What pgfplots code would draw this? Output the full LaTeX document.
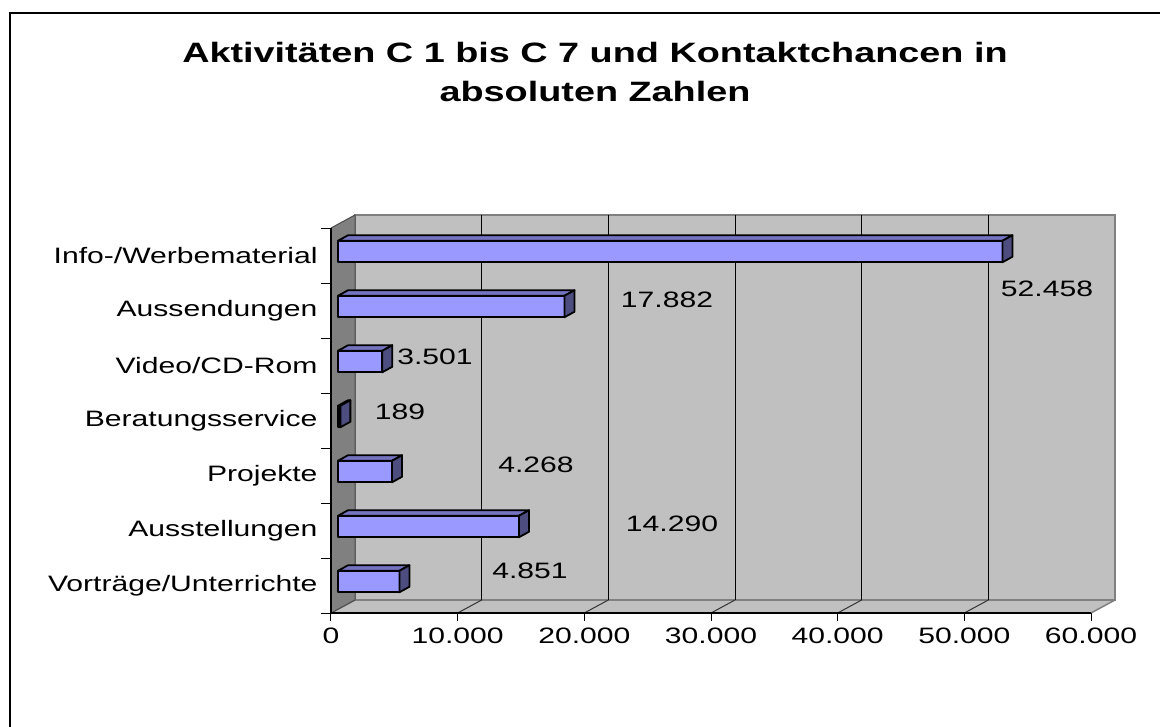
\documentclass[border=0pt]{standalone}
\usepackage{fontspec}
\setmainfont{Liberation Sans}[FakeStretch=1.35]
\usepackage{pgfplots}
\pgfplotsset{compat=1.18}
\usepackage{pgfplotstable}
\definecolor{barfront}{HTML}{9999FF}
\definecolor{bartop}{HTML}{7373BF}
\definecolor{barside}{HTML}{4D4D80}
\definecolor{wall}{HTML}{C0C0C0}
\definecolor{wallside}{HTML}{808080}
\newcommand\lbl{\fontsize{22.3}{26}\selectfont}
\newcommand\ttl{\fontsize{28}{38.4}\selectfont\bfseries}

% idx: category position (0 = bottom), v: value, ox/oy: label offset (pt)
\pgfplotstableread{
idx v ox oy
0 4851 137.6 14.5
1 14290 160 6.5
2 4268 150.9 10.5
3 189 66.6 8.5
4 3501 59.7 8.5
5 17882 109.5 10.5
6 52458 51.5 -33.5
}\data

\begin{document}
\begin{tikzpicture}
\path[use as bounding box] (0,0) rectangle (1160pt,-727pt);
\clip (0,0) rectangle (1160pt,-727pt);
\begin{scope}[x=1pt,y=-1pt]
  % outer frame
  \draw[line width=2.5pt] (10,800) -- (10,13) -- (1200,13);
  % title
  \node[font=\ttl, anchor=base, inner sep=0pt] at (595,63) {Aktivitäten C 1 bis C 7 und Kontaktchancen in};
  \node[font=\ttl, anchor=base, inner sep=0pt] at (595,101.7) {absoluten Zahlen};
  % back wall
  \filldraw[fill=wall, draw=wallside, line width=2pt] (355,215) rectangle (1115,600);
  % floor
  \filldraw[fill=wall, draw=wallside, line width=1.5pt, line join=round] (331,613) -- (1091,613) -- (1115,600) -- (355,600) -- cycle;
  % left wall
  \filldraw[fill=wallside, draw=black!70, line width=1pt, line join=round] (331,228) -- (355,215) -- (355,600) -- (331,613) -- cycle;
  % grid lines on back wall and floor
  \foreach \k in {1,...,5} {
    \draw[black, line width=1pt] ({355+126.667*\k},215) -- ({355+126.667*\k},600);
    \draw[black!80, line width=1pt] ({331+126.667*\k},613) -- ({355+126.667*\k},600);
  }
\end{scope}
\begin{axis}[
  at={(331pt,-613pt)}, anchor=south west,
  scale only axis, width=760pt, height=385pt,
  xmin=0, xmax=60000, ymin=-0.5, ymax=6.5,
  clip=false,
  axis x line*=bottom, axis y line*=left,
  axis line style={black, line width=1.2pt},
  xtick={0,10000,...,60000},
  scaled x ticks=false,
  /pgf/number format/assume math mode=true,
  /pgf/number format/1000 sep={.},
  xticklabel style={yshift=-3.6pt},
  ytick={0,...,6},
  yticklabels={Vorträge/Unterrichte,Ausstellungen,Projekte,Beratungsservice,Video/CD-Rom,Aussendungen,Info-/Werbematerial},
  minor ytick={-0.5,0.5,...,6.5},
  tick align=outside,
  major tick length=8pt, minor tick length=10pt,
  major y tick style={draw=none},
  minor y tick style={black, line width=1pt},
  major x tick style={black, line width=1pt},
  tick label style={font=\lbl, text=black},
  yticklabel style={xshift=-2pt},
]
% 3D top and side faces of the bars (bar length from the mapped meta: 0..60000 -> 0..1000)
\addplot[scatter, only marks, mark=*, mark size=0pt,
  scatter/use mapped color={draw=none, fill=none},
  point meta=x, point meta min=0, point meta max=60000,
  scatter/@pre marker code/.code={%
    \pgfmathsetmacro\xl{7-0.76*\pgfplotspointmetatransformed}%
    \pgfmathsetmacro\xb{17-0.76*\pgfplotspointmetatransformed}%
    \filldraw[fill=bartop, draw=black, line width=1.8pt, line join=round]
      (\xl pt,14.75pt) -- (7pt,14.75pt) -- (17pt,20.25pt) -- (\xb pt,20.25pt) -- cycle;
    \filldraw[fill=barside, draw=black, line width=1.8pt, line join=round]
      (7pt,-6.75pt) -- (7pt,14.75pt) -- (17pt,20.25pt) -- (17pt,-1.25pt) -- cycle;
  },
  scatter/@post marker code/.code={},
] table[x=v, y=idx] {\data};
% front faces of the bars
\addplot[xbar, bar width=21.5pt, bar shift=4pt, xshift=7pt,
  fill=barfront, draw=black, line width=1.8pt, line join=round]
  table[x=v, y=idx] {\data};
% value labels
\addplot[only marks, mark=*, mark size=0pt,
  mark options={draw=none, fill=none},
  scatter/use mapped color={draw=none, fill=none},
  point meta=x,
  visualization depends on={\thisrow{ox} \as \ox},
  visualization depends on={\thisrow{oy} \as \oy},
  nodes near coords,
  every node near coord/.style={anchor=center, xshift=\ox pt, yshift=\oy pt, font=\lbl, text=black, inner sep=0pt},
] table[x=v, y=idx] {\data};
\end{axis}
\end{tikzpicture}
\end{document}
